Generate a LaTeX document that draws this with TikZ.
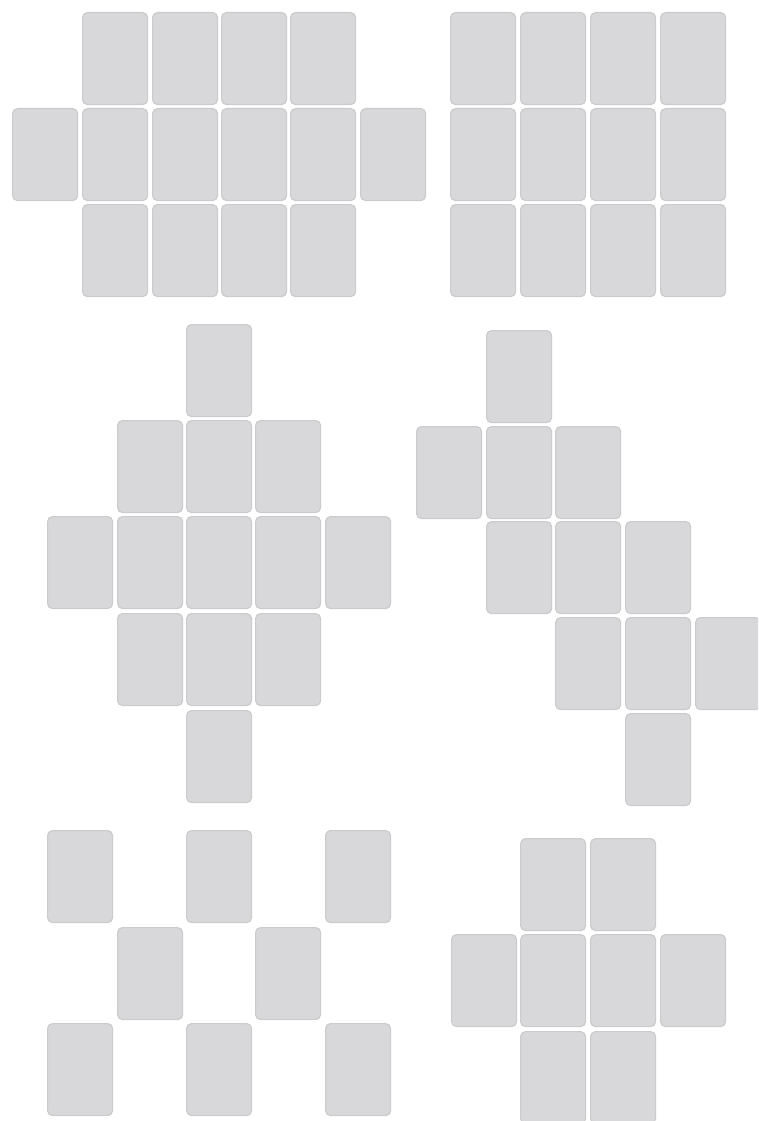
\documentclass[tikz,border=0pt]{standalone}
\definecolor{cardfill}{HTML}{D8D8DA}
\definecolor{cardedge}{HTML}{CBCBCD}
\tikzset{
  card/.style={draw=cardedge, fill=cardfill, line width=1.2pt, rounded corners=5pt,
    minimum width=65pt, minimum height=92pt, inner sep=0pt, anchor=north west}
}
\begin{document}
\begin{tikzpicture}[x=1pt,y=-1pt]
\useasboundingbox (0,0) rectangle (758,1121);
\clip (0,0) rectangle (758,1121);
% Group A
\foreach \c/\x in {1/82,2/152,3/221,4/290} {\node[card] (a0\c) at (\x,12) {};}
\foreach \c/\x in {0/12,1/82,2/152,3/221,4/290,5/360} {\node[card] (a1\c) at (\x,108) {};}
\foreach \c/\x in {1/82,2/152,3/221,4/290} {\node[card] (a2\c) at (\x,204) {};}
% Group B
\foreach \r/\y in {0/12,1/108,2/204} {
  \foreach \c/\x in {0/450,1/520,2/590,3/660} {\node[card] (b\r\c) at (\x,\y) {};}
}
% Group C
\node[card] (c02) at (186,324) {};
\foreach \c/\x in {1/117,2/186,3/255} {\node[card] (c1\c) at (\x,420) {};}
\foreach \c/\x in {0/47,1/117,2/186,3/255,4/325} {\node[card] (c2\c) at (\x,516) {};}
\foreach \c/\x in {1/117,2/186,3/255} {\node[card] (c3\c) at (\x,613) {};}
\node[card] (c42) at (186,710) {};
% Group D
\node[card] (d01) at (486,330) {};
\foreach \c/\x in {0/416,1/486,2/555} {\node[card] (d1\c) at (\x,426) {};}
\foreach \c/\x in {1/486,2/555,3/625} {\node[card] (d2\c) at (\x,521) {};}
\foreach \c/\x in {2/555,3/625,4/695} {\node[card] (d3\c) at (\x,617) {};}
\node[card] (d43) at (625,713) {};
% Group E
\foreach \c/\x in {0/47,2/186,4/325} {\node[card] (e0\c) at (\x,830) {};}
\foreach \c/\x in {1/117,3/255} {\node[card] (e1\c) at (\x,927) {};}
\foreach \c/\x in {0/47,2/186,4/325} {\node[card] (e2\c) at (\x,1023) {};}
% Group F
\foreach \c/\x in {1/520,2/590} {\node[card] (f0\c) at (\x,838) {};}
\foreach \c/\x in {0/451,1/520,2/590,3/660} {\node[card] (f1\c) at (\x,934) {};}
\foreach \c/\x in {1/520,2/590} {\node[card] (f2\c) at (\x,1031) {};}
\end{tikzpicture}
\end{document}
